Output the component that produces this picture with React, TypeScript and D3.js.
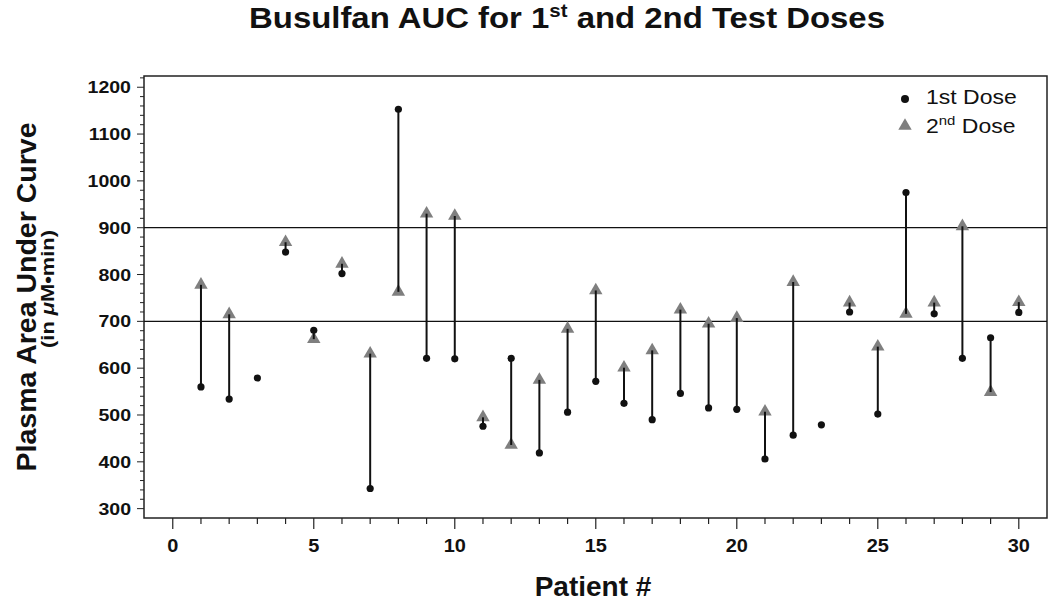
import React from 'react';
import * as d3 from 'd3';

const patients = [1, 2, 3, 4, 5, 6, 7, 8, 9, 10, 11, 12, 13, 14, 15, 16, 17, 18, 19, 20, 21, 22, 23, 24, 25, 26, 27, 28, 29, 30];
const dose1 = [560, 534, 579, 848, 681, 802, 343, 1153, 621, 620, 476, 621, 419, 506, 572, 525, 490, 546, 515, 512, 406, 457, 479, 720, 502, 975, 716, 621, 665, 719];
const dose2: (number | null)[] = [778, 715, null, 869, 662, 823, 631, 763, 930, 925, 495, 436, 575, 684, 766, 601, 638, 725, 695, 707, 507, 784, null, 740, 646, 716, 740, 903, 549, 741];
const refLines = [900, 700];
const xTicks = [0, 5, 10, 15, 20, 25, 30];
const yTicks = [300, 400, 500, 600, 700, 800, 900, 1000, 1100, 1200];

const W = 1050;
const H = 607;
const margin = { top: 76, right: 3, bottom: 89, left: 144 };
const font = "'Liberation Sans', Arial, sans-serif";
const triColor = '#7f7f7f';
// the source picture is a little wider than tall, so text is stretched sideways
const sx = 1.15;

export default function App() {
  const x = d3.scaleLinear().domain([-1.02, 31]).range([margin.left, W - margin.right]);
  const y = d3.scaleLinear().domain([280, 1224]).range([H - margin.bottom, margin.top]);
  const tri = d3.symbol(d3.symbolTriangle).size(78)()!;
  const minorX = d3.range(0, 31);
  const minorY = d3.range(300, 1221, 20);
  const x0 = margin.left;
  const x1 = W - margin.right;
  const y0 = H - margin.bottom;
  const y1 = margin.top;

  return (
    <svg width={W} height={H} style={{ position: 'absolute', left: 0, top: 0, background: '#fff' }} fontFamily={font}>
      <g transform={`translate(567,28) scale(1.135,1)`}>
        <text x={0} y={0} textAnchor="middle" fontSize={29} fontWeight="bold" fill="#111">
          Busulfan AUC for 1<tspan fontSize={18} dy={-11}>st</tspan>
          <tspan dy={11}> and 2nd Test Doses</tspan>
        </text>
      </g>

      {/* frame */}
      <rect x={x0} y={y1} width={x1 - x0} height={y0 - y1} fill="none" stroke="#222" strokeWidth={1.5} />

      {/* reference lines */}
      {refLines.map(v => (
        <line key={v} x1={x0} x2={x1} y1={y(v)} y2={y(v)} stroke="#111" strokeWidth={1.3} />
      ))}

      {/* y ticks */}
      {minorY.map(v => (
        <line key={'my' + v} x1={x0} x2={x0 - (v % 100 === 0 ? 7 : 4)} y1={y(v)} y2={y(v)} stroke="#222" strokeWidth={1} />
      ))}
      {yTicks.map(v => (
        <text key={'ty' + v} transform={`translate(131,${y(v)}) scale(${sx},1)`} dy="0.36em" textAnchor="end" fontSize={17} fontWeight="bold" fill="#111">{v}</text>
      ))}

      {/* x ticks */}
      {minorX.map(v => (
        <line key={'mx' + v} x1={x(v)} x2={x(v)} y1={y0} y2={y0 + (v % 5 === 0 ? 11 : 6)} stroke="#222" strokeWidth={1.2} />
      ))}
      {xTicks.map(v => (
        <text key={'tx' + v} transform={`translate(${x(v)},552) scale(1.08,1)`} textAnchor="middle" fontSize={18.5} fontWeight="bold" fill="#111">{v}</text>
      ))}

      <text x={593} y={596} textAnchor="middle" fontSize={28} fontWeight="bold" fill="#111">Patient #</text>
      <text transform="translate(36,297) rotate(-90)" textAnchor="middle" fontSize={28.5} fontWeight="bold" fill="#111">Plasma Area Under Curve</text>
      <text transform="translate(54,289) rotate(-90) scale(1.15,1)" textAnchor="middle" fontSize={19} fontWeight="bold" fill="#111">
        (in <tspan fontStyle="italic">μ</tspan>M•min)
      </text>

      {/* triangles (2nd dose) */}
      {patients.map((p, i) => dose2[i] == null ? null : (
        <path key={'t' + p} d={tri} transform={`translate(${x(p)},${y(dose2[i] as number)})`} fill={triColor} />
      ))}
      {/* connecting lines */}
      {patients.map((p, i) => dose2[i] == null ? null : (
        <line key={'l' + p} x1={x(p)} x2={x(p)} y1={y(dose1[i])} y2={y(dose2[i] as number)} stroke="#111" strokeWidth={2} />
      ))}
      {/* circles (1st dose) */}
      {patients.map((p, i) => (
        <circle key={'c' + p} cx={x(p)} cy={y(dose1[i])} r={3.6} fill="#111" />
      ))}

      {/* legend */}
      <circle cx={905} cy={99} r={4} fill="#111" />
      <text transform={`translate(926,104) scale(${sx},1)`} fontSize={20} fill="#111">1st Dose</text>
      <path d={tri} transform="translate(905,126)" fill={triColor} />
      <text transform={`translate(926,133) scale(${sx},1)`} fontSize={20} fill="#111">
        2<tspan fontSize={13} dy={-8}>nd</tspan><tspan dy={8}> Dose</tspan>
      </text>
    </svg>
  );
}
